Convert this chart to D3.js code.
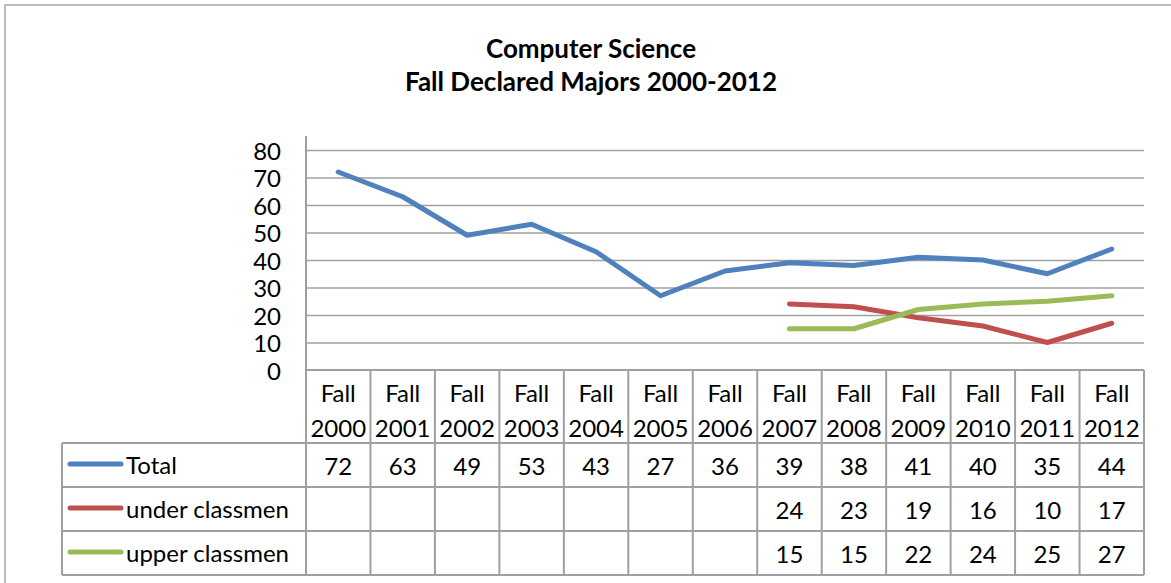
<!DOCTYPE html>
<html>
<head>
<meta charset="utf-8">
<script src="https://cdn.jsdelivr.net/npm/d3@7"></script>
<style>
  body { margin: 0; background: #fff; }
  svg { display: block; font-family: Lato, 'Open Sans', sans-serif; }
</style>
</head>
<body>
<div class="chart"></div>
<script>
const titleLines = ['Computer Science', 'Fall Declared Majors 2000-2012'];
const categories = ['Fall 2000', 'Fall 2001', 'Fall 2002', 'Fall 2003', 'Fall 2004', 'Fall 2005', 'Fall 2006',
  'Fall 2007', 'Fall 2008', 'Fall 2009', 'Fall 2010', 'Fall 2011', 'Fall 2012'];
const seriesNames = ['Total', 'under classmen', 'upper classmen'];
const totalValues = [72, 63, 49, 53, 43, 27, 36, 39, 38, 41, 40, 35, 44];
const underValues = [null, null, null, null, null, null, null, 24, 23, 19, 16, 10, 17];
const upperValues = [null, null, null, null, null, null, null, 15, 15, 22, 24, 25, 27];
const yTicks = [0, 10, 20, 30, 40, 50, 60, 70, 80];

const colors = ['#4f81bd', '#c0504d', '#9bbb59'];
const gridColor = '#a0a0a0';

const width = 1171,
    height = 583,
    plotLeft = 306,
    plotRight = 1144,
    plotTop = 136,
    plotBottom = 370,
    headerBottom = 443,
    rowHeight = 44,
    tableLeft = 62,
    fontSize = 24;

let svg = d3.select('.chart').append('svg')
    .attr('width', width)
    .attr('height', height);

svg.append('rect')
    .attr('width', width)
    .attr('height', height)
    .style('fill', '#fff');

// Outer chart border (right and bottom edges fall outside the picture).
svg.append('rect')
    .attr('x', 5)
    .attr('y', 5)
    .attr('width', width + 20)
    .attr('height', height + 20)
    .style('fill', 'none')
    .style('stroke', '#a6a6a6')
    .style('stroke-width', 1.5);

// Title.
svg.append('text')
    .attr('text-anchor', 'middle')
    .style('font-weight', 'bold')
    .style('font-size', '26px')
    .selectAll('tspan')
    .data(titleLines)
    .enter()
    .append('tspan')
    .attr('x', 591)
    .attr('y', (d, i) => 58 + i * 33)
    .text((d) => d);

// Scales.
let xScale = d3.scaleBand()
    .domain(categories)
    .range([plotLeft, plotRight])
    .padding(0);

let yScale = d3.scaleLinear()
    .domain([0, 80])
    .range([plotBottom, 150]);

const xMid = (i) => xScale(categories[i]) + xScale.bandwidth() / 2;

// Gridlines.
svg.append('g')
    .attr('transform', 'translate(' + plotLeft + ', 0)')
    .call(d3.axisLeft(yScale).tickValues(yTicks.slice(1)).tickSize(-(plotRight - plotLeft)).tickFormat(''))
    .call((g) => g.select('.domain').remove())
    .call((g) => g.selectAll('line').style('stroke', gridColor).style('stroke-width', 1.5));

// Y axis labels.
svg.append('g')
    .attr('transform', 'translate(' + (plotLeft - 25) + ', 0)')
    .call(d3.axisLeft(yScale).tickValues(yTicks).tickSize(0).tickPadding(0))
    .call((g) => g.select('.domain').remove())
    .call((g) => g.selectAll('text')
        .style('font-family', 'Lato, sans-serif')
        .style('font-size', fontSize + 'px')
        .style('fill', '#000')
        .attr('dy', '0.38em'));

svg.append('line')
    .attr('x1', plotLeft).attr('x2', plotLeft)
    .attr('y1', plotTop).attr('y2', plotBottom)
    .style('stroke', gridColor)
    .style('stroke-width', 2);

// Data table grid.
let tableBottom = headerBottom + rowHeight * seriesNames.length;
let table = svg.append('g')
    .style('stroke', gridColor)
    .style('stroke-width', 2);

table.selectAll('.vline')
    .data(categories.concat(['end']))
    .enter()
    .append('line')
    .attr('x1', (d, i) => plotLeft + i * xScale.bandwidth())
    .attr('x2', (d, i) => plotLeft + i * xScale.bandwidth())
    .attr('y1', plotBottom)
    .attr('y2', tableBottom);

table.selectAll('.hline')
    .data(d3.range(seriesNames.length + 1))
    .enter()
    .append('line')
    .attr('x1', tableLeft)
    .attr('x2', plotRight)
    .attr('y1', (d) => headerBottom + d * rowHeight)
    .attr('y2', (d) => headerBottom + d * rowHeight);

table.append('line')
    .attr('x1', plotLeft).attr('x2', plotRight)
    .attr('y1', plotBottom).attr('y2', plotBottom);

table.append('line')
    .attr('x1', tableLeft).attr('x2', tableLeft)
    .attr('y1', headerBottom).attr('y2', tableBottom);

// Category header labels, two lines each.
svg.append('g')
    .selectAll('text')
    .data(categories)
    .enter()
    .append('text')
    .attr('text-anchor', 'middle')
    .style('font-size', fontSize + 'px')
    .selectAll('tspan')
    .data((d) => d.split(' ').map((word) => [d, word]))
    .enter()
    .append('tspan')
    .attr('x', (d) => xScale(d[0]) + xScale.bandwidth() / 2)
    .attr('y', (d, i) => 402 + i * 35)
    .text((d) => d[1]);

// Series lines, legend keys and table values.
const allSeries = [totalValues, underValues, upperValues];

let line = d3.line()
    .defined((d) => d != null)
    .x((d, i) => xMid(i))
    .y((d) => yScale(d));

allSeries.forEach((values, s) => {
  svg.append('path')
      .datum(values)
      .attr('d', line)
      .style('fill', 'none')
      .style('stroke', colors[s])
      .style('stroke-width', 5)
      .style('stroke-linejoin', 'round')
      .style('stroke-linecap', 'round');

  let rowMid = headerBottom + rowHeight * s + rowHeight / 2;

  svg.append('line')
      .attr('x1', 70).attr('x2', 121)
      .attr('y1', rowMid - 1).attr('y2', rowMid - 1)
      .style('stroke', colors[s])
      .style('stroke-width', 5)
      .style('stroke-linecap', 'round');

  svg.append('text')
      .attr('x', 126)
      .attr('y', rowMid + 9)
      .style('font-size', fontSize + 'px')
      .text(seriesNames[s]);

  svg.append('g')
      .selectAll('text')
      .data(values)
      .enter()
      .append('text')
      .attr('text-anchor', 'middle')
      .attr('x', (d, i) => xMid(i))
      .attr('y', rowMid + 10)
      .style('font-size', fontSize + 'px')
      .text((d) => d == null ? '' : d);
});
</script>
</body>
</html>
